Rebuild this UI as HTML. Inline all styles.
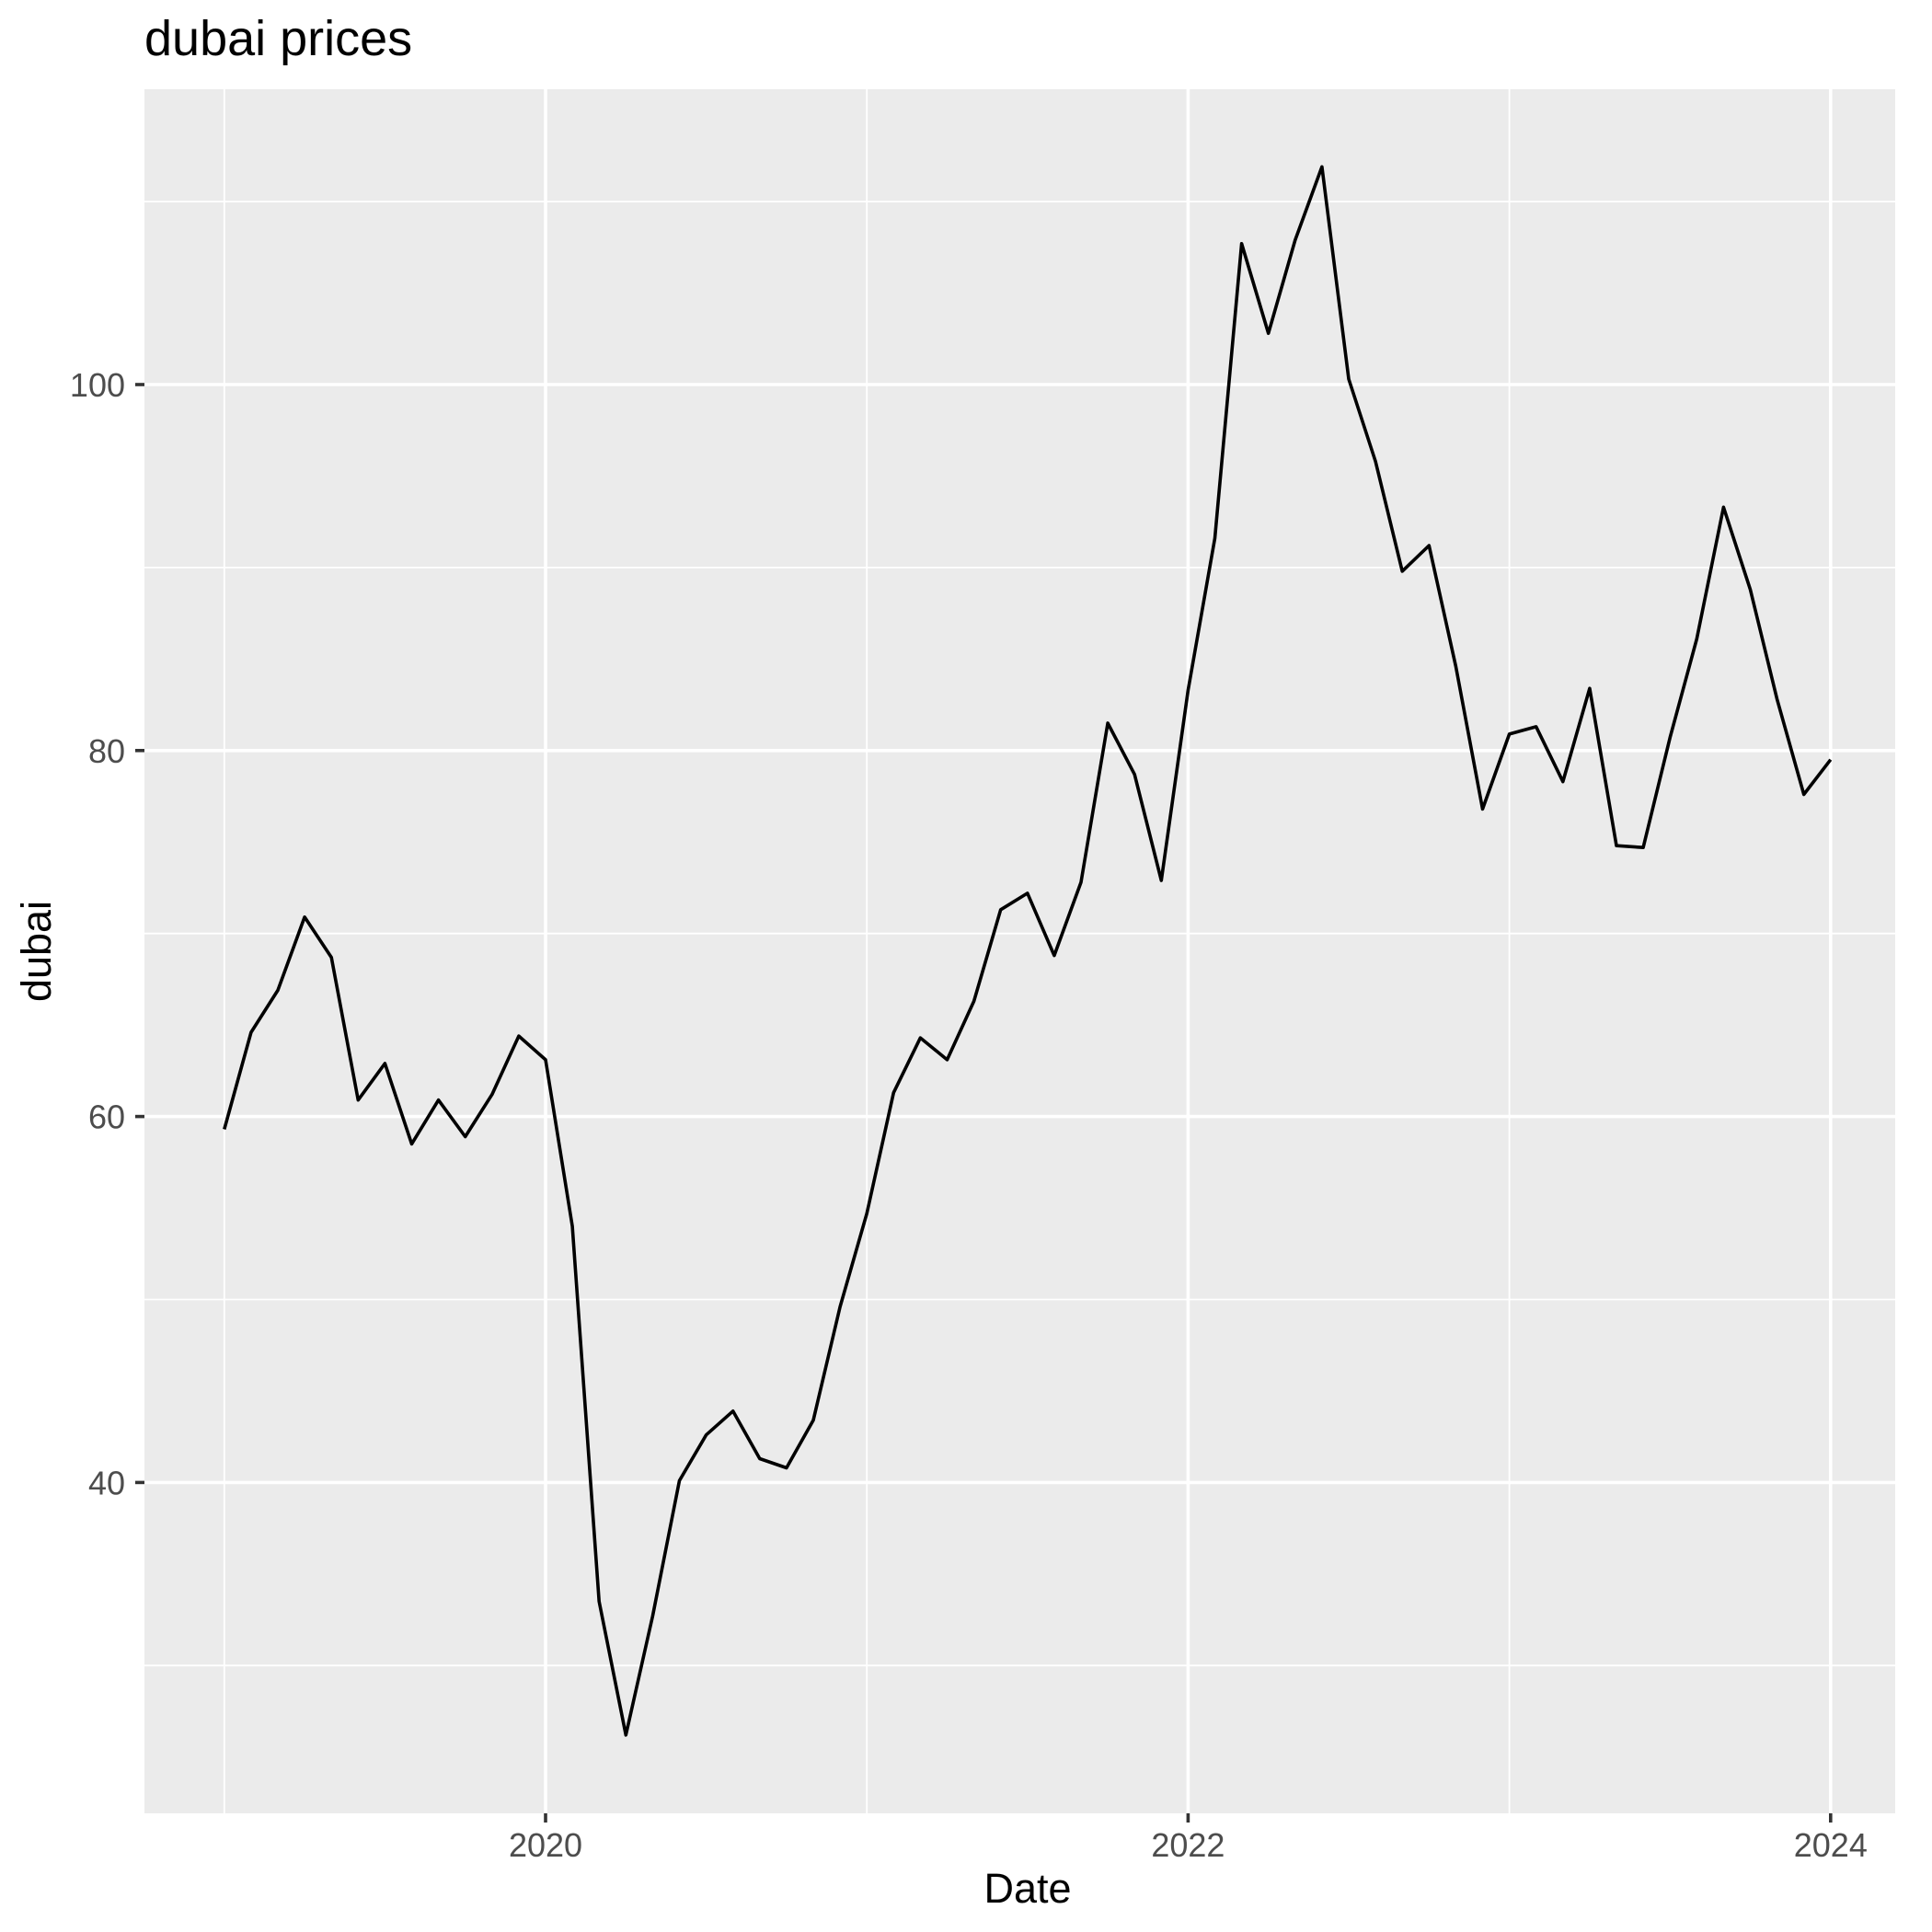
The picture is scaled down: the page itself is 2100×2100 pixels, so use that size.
<!DOCTYPE html>
<html><head><meta charset="utf-8"><style>body{margin:0;background:#fff}svg{display:block;font-family:"Liberation Sans",Arial,sans-serif}</style></head>
<body>
<svg id="chart" width="2100" height="2100" viewBox="0 0 2100 2100" xmlns="http://www.w3.org/2000/svg">
<text x="157" y="60" font-size="54" fill="#000">dubai prices</text>
<rect x="157" y="97" width="1903" height="1874" fill="#ebebeb"/>
<g id="grid"></g>
<g id="axes"></g>
<path id="line" fill="none" stroke="#000" stroke-width="3.6" stroke-linejoin="round"/>
<text x="1117" y="2068" font-size="45" text-anchor="middle" fill="#000">Date</text>
<text transform="translate(55,1034) rotate(-90)" font-size="45" text-anchor="middle" fill="#000">dubai</text>
</svg>
<script>
const startYear = 2019;
const values = [59.3,64.6,66.9,70.9,68.7,60.9,62.9,58.5,60.9,58.9,61.2,64.4,
63.1,54.0,33.5,26.2,32.7,40.1,42.6,43.9,41.3,40.8,43.4,49.6,
54.7,61.3,64.3,63.1,66.3,71.3,72.2,68.8,72.8,81.5,78.7,72.9,
83.3,91.6,107.7,102.8,107.9,111.9,100.3,95.8,89.8,91.2,84.6,76.8,
80.9,81.3,78.3,83.4,74.8,74.7,80.7,86.1,93.3,88.8,82.8,77.6,
79.5];
const yTicks = [40,60,80,100];
const yMinor = [30,50,70,90,110];
const xTicks = [2020,2022,2024];
const xMinor = [2019,2021,2023];

const X0=157,X1=2060,Y0=97,Y1=1971;
function xs(yr){return 593+(yr-2020)*349.2;}
function ys(v){return 418+(100-v)*19.89;}
const NS="http://www.w3.org/2000/svg";
const grid=document.getElementById('grid'), axes=document.getElementById('axes');
function mk(tag,attrs,parent){const e=document.createElementNS(NS,tag);for(const k in attrs)e.setAttribute(k,attrs[k]);parent.appendChild(e);return e;}
yMinor.forEach(v=>{const l=mk('line',{x1:X0,x2:X1,y1:ys(v),y2:ys(v),stroke:'#fff','stroke-width':1.8},grid);

});
xMinor.forEach(v=>{const l=mk('line',{x1:xs(v),x2:xs(v),y1:Y0,y2:Y1,stroke:'#fff','stroke-width':1.8},grid);

});
yTicks.forEach(v=>{const y=ys(v);
const l=mk('line',{x1:X0,x2:X1,y1:y,y2:y,stroke:'#fff','stroke-width':3.6},grid);


const t=mk('line',{x1:147,x2:X0,y1:y,y2:y,stroke:'#333','stroke-width':3.6},axes);


const tx=mk('text',{x:136,y:y+13,'font-size':36,'text-anchor':'end',fill:'#4d4d4d'},axes);tx.textContent=v;

});
xTicks.forEach(v=>{const x=xs(v);
const l=mk('line',{x1:x,x2:x,y1:Y0,y2:Y1,stroke:'#fff','stroke-width':3.6},grid);


const t=mk('line',{x1:x,x2:x,y1:Y1,y2:Y1+10,stroke:'#333','stroke-width':3.6},axes);


const tx=mk('text',{x:x,y:2018,'font-size':36,'text-anchor':'middle',fill:'#4d4d4d'},axes);tx.textContent=v;

});
document.getElementById('line').setAttribute('d',values.map((v,i)=>(i?'L':'M')+xs(startYear+i/12).toFixed(1)+','+ys(v).toFixed(1)).join(''));
</script>
</body></html>
